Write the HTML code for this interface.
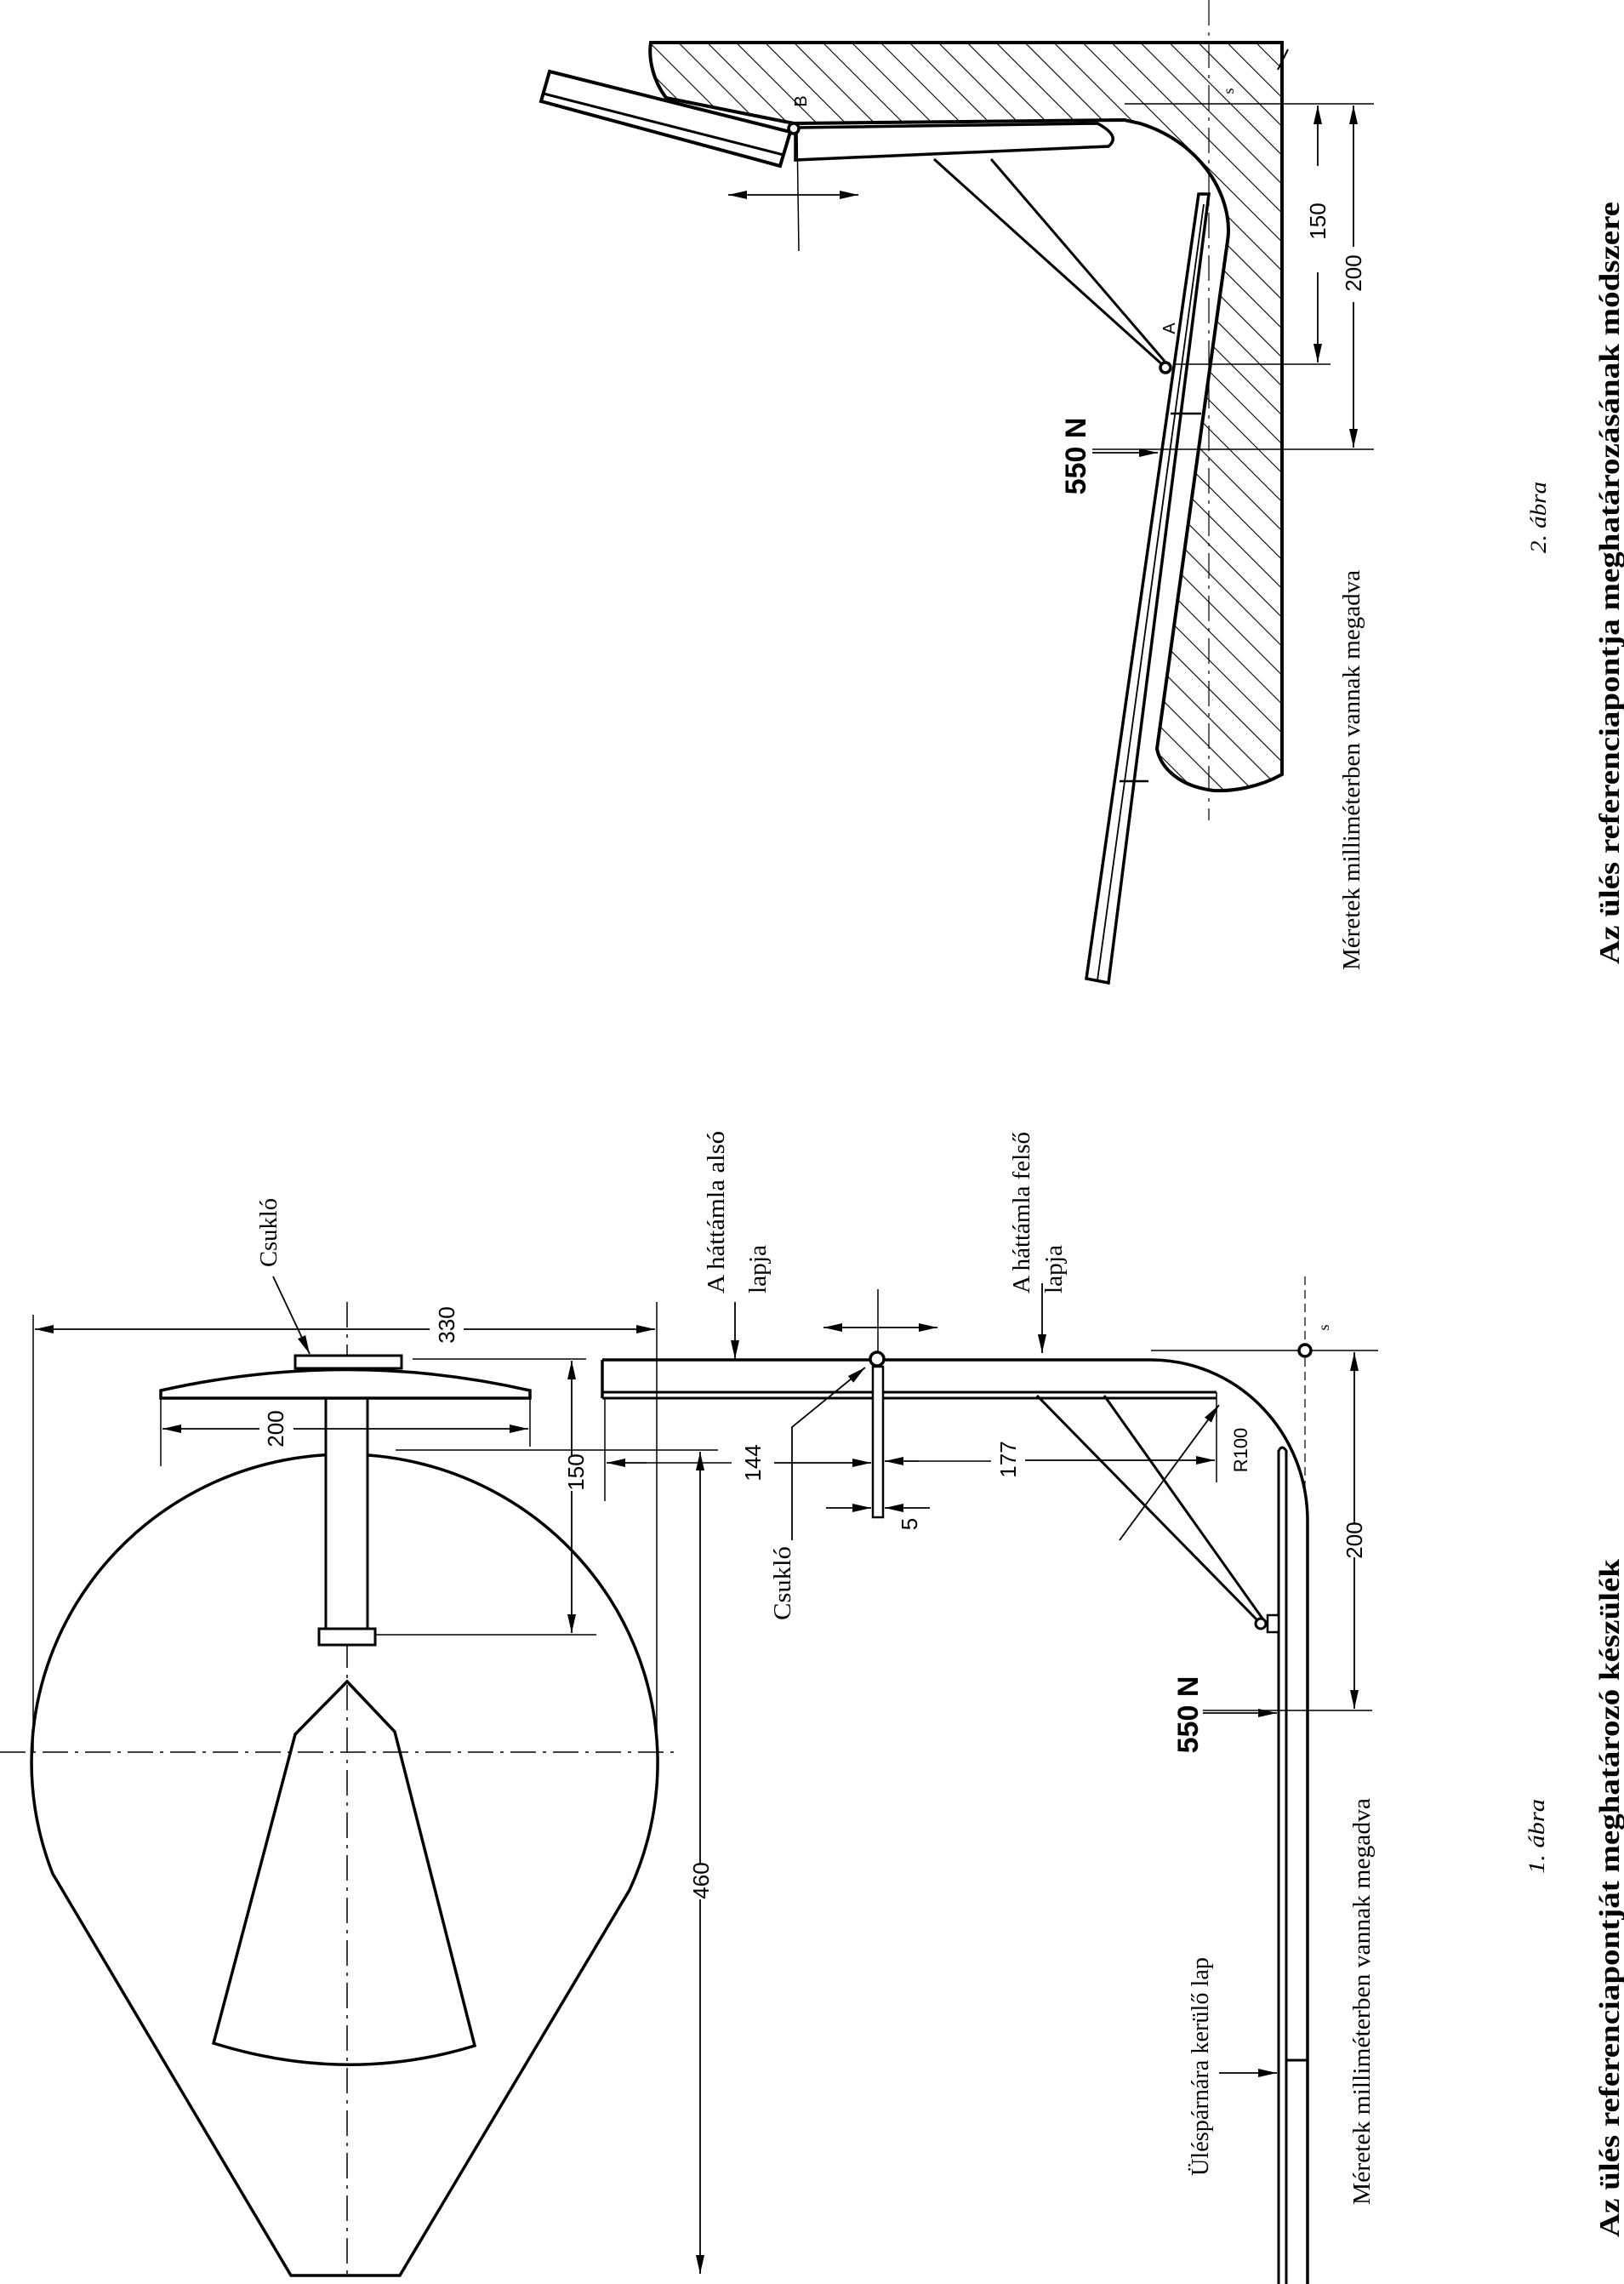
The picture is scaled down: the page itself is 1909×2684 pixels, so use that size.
<!DOCTYPE html>
<html><head><meta charset="utf-8"><style>
html,body{margin:0;padding:0;background:#fff}
svg{display:block}
.s{font-family:"Liberation Serif",serif}
.n{font-family:"Liberation Sans",sans-serif}
</style></head><body>
<svg width="1909" height="2684" viewBox="0 0 1909 2684" xmlns="http://www.w3.org/2000/svg">
<defs>
<marker id="ar" markerUnits="userSpaceOnUse" markerWidth="24" markerHeight="12" refX="22" refY="6" orient="auto"><path d="M0,1 L22,6 L0,11 Z" fill="#000"/></marker>
<pattern id="h" patternUnits="userSpaceOnUse" width="24" height="24" patternTransform="rotate(-45)"><line x1="0" y1="0" x2="0" y2="24" stroke="#000" stroke-width="2.2"/></pattern>
</defs>
<rect width="1909" height="2684" fill="#fff"/>
<g fill="none" stroke="#000">
<!-- FIGURE 1 -->
<path d="M62,2202 A368,362 0 1 1 740,2221 L470,2674 L342,2674 Z" stroke-width="3.5"/>
<path d="M408,1976 L464,2035 L558,2404 Q408,2450 251,2401 L347,2038 Z" stroke-width="3.5"/>
<line x1="0" y1="2059" x2="798" y2="2059" stroke-width="1.5" stroke-dasharray="30,8,4,8"/>
<line x1="408" y1="1530" x2="408" y2="2674" stroke-width="1.5" stroke-dasharray="30,8,4,8"/>
<rect x="383" y="1643" width="49" height="271" stroke-width="3" fill="#fff"/>
<rect x="375" y="1914" width="66" height="19" stroke-width="3" fill="#fff"/>
<path d="M189,1634 Q408,1585 623,1634 L623,1643 L189,1643 Z" stroke-width="3.5" fill="#fff"/>
<rect x="347" y="1593" width="125" height="15" stroke-width="3" fill="#fff"/>
<!-- 330 -->
<line x1="39" y1="1545" x2="39" y2="2059" stroke-width="1.5"/>
<line x1="772" y1="1530" x2="772" y2="2059" stroke-width="1.5"/>
<line x1="505" y1="1562" x2="41" y2="1562" stroke-width="1.8" marker-end="url(#ar)"/>
<line x1="545" y1="1562" x2="770" y2="1562" stroke-width="1.8" marker-end="url(#ar)"/>
<!-- 200 -->
<line x1="189" y1="1634" x2="189" y2="1723" stroke-width="1.5"/>
<line x1="623" y1="1634" x2="623" y2="1700" stroke-width="1.5"/>
<line x1="305" y1="1679" x2="191" y2="1679" stroke-width="1.8" marker-end="url(#ar)"/>
<line x1="345" y1="1679" x2="621" y2="1679" stroke-width="1.8" marker-end="url(#ar)"/>
<!-- 150 -->
<line x1="485" y1="1597" x2="689" y2="1597" stroke-width="1.5"/>
<line x1="441" y1="1921" x2="701" y2="1921" stroke-width="1.5"/>
<line x1="672" y1="1710" x2="672" y2="1599" stroke-width="1.8" marker-end="url(#ar)"/>
<line x1="672" y1="1752" x2="672" y2="1919" stroke-width="1.8" marker-end="url(#ar)"/>
<line x1="465" y1="1704" x2="844" y2="1704" stroke-width="1.5"/>
<!-- 460 -->
<line x1="823" y1="2190" x2="823" y2="1706" stroke-width="1.8" marker-end="url(#ar)"/>
<line x1="823" y1="2232" x2="823" y2="2672" stroke-width="1.8" marker-end="url(#ar)"/>
<!-- csuklo leader top -->
<line x1="321" y1="1500" x2="364" y2="1591" stroke-width="1.8" marker-end="url(#ar)"/>
<!-- backrest plate -->
<path d="M708,1598 L1353,1598 A184,189 0 0 1 1537,1787 L1537,2684" stroke-width="3.5"/>
<line x1="708" y1="1598" x2="708" y2="1643" stroke-width="3.5"/>
<line x1="708" y1="1636" x2="1430" y2="1636" stroke-width="3"/>
<line x1="708" y1="1643" x2="1430" y2="1643" stroke-width="3"/>
<path d="M1503,2684 L1503,1705 Q1507,1697 1512,1705 L1512,2684" stroke-width="3"/>
<line x1="1512" y1="2421" x2="1537" y2="2421" stroke-width="3"/>
<!-- struts -->
<line x1="1219" y1="1640" x2="1478" y2="1904" stroke-width="3"/>
<line x1="1298" y1="1640" x2="1484" y2="1902" stroke-width="3"/>
<rect x="1490" y="1898" width="13" height="20" stroke-width="2.5" fill="#fff"/>
<circle cx="1482" cy="1908" r="6" stroke-width="3" fill="#fff"/>
<!-- hinge -->
<rect x="1026" y="1606" width="12" height="177" stroke-width="2.5" fill="#fff"/>
<line x1="1032" y1="1515" x2="1032" y2="1600" stroke-width="1.5"/>
<line x1="1032" y1="1560" x2="968" y2="1560" stroke-width="1.8" marker-end="url(#ar)"/>
<line x1="1032" y1="1560" x2="1102" y2="1560" stroke-width="1.8" marker-end="url(#ar)"/>
<circle cx="1031" cy="1597" r="8" stroke-width="3.5" fill="#fff"/>
<line x1="864" y1="1530" x2="864" y2="1597" stroke-width="1.8" marker-end="url(#ar)"/>
<line x1="1225" y1="1508" x2="1225" y2="1590" stroke-width="1.8" marker-end="url(#ar)"/>
<!-- 144 / 177 / 5 -->
<line x1="711" y1="1643" x2="711" y2="1764" stroke-width="1.5"/>
<line x1="760" y1="1719" x2="713" y2="1719" stroke-width="1.8" marker-end="url(#ar)"/>
<line x1="760" y1="1719" x2="860" y2="1719" stroke-width="1.5"/>
<line x1="910" y1="1719" x2="1024" y2="1719" stroke-width="1.8" marker-end="url(#ar)"/>
<line x1="1080" y1="1717" x2="1040" y2="1717" stroke-width="1.8" marker-end="url(#ar)"/>
<line x1="1080" y1="1717" x2="1165" y2="1717" stroke-width="1.5"/>
<line x1="1205" y1="1716" x2="1428" y2="1716" stroke-width="1.8" marker-end="url(#ar)"/>
<line x1="1430" y1="1636" x2="1430" y2="1742" stroke-width="1.5"/>
<line x1="971" y1="1772" x2="1024" y2="1772" stroke-width="1.8" marker-end="url(#ar)"/>
<line x1="1093" y1="1772" x2="1040" y2="1772" stroke-width="1.8" marker-end="url(#ar)"/>
<!-- csuklo lower leader -->
<polyline points="931,1810 931,1677 1017,1607" stroke-width="1.8" marker-end="url(#ar)"/>
<!-- R100 -->
<line x1="1316" y1="1810" x2="1433" y2="1651" stroke-width="1.8" marker-end="url(#ar)"/>
<!-- s -->
<line x1="1534" y1="1500" x2="1534" y2="1750" stroke-width="1.2" stroke-dasharray="10,6"/>
<line x1="1353" y1="1587" x2="1620" y2="1587" stroke-width="1.5"/>
<circle cx="1534" cy="1587" r="7" stroke-width="3.5" fill="#fff"/>
<!-- 200 seat -->
<line x1="1592" y1="1790" x2="1592" y2="1589" stroke-width="1.8" marker-end="url(#ar)"/>
<line x1="1592" y1="1830" x2="1592" y2="2008" stroke-width="1.8" marker-end="url(#ar)"/>
<line x1="1414" y1="2010" x2="1613" y2="2010" stroke-width="1.5"/>
<line x1="1414" y1="2013" x2="1501" y2="2013" stroke-width="1.8" marker-end="url(#ar)"/>
<line x1="1433" y1="2436" x2="1501" y2="2436" stroke-width="1.8" marker-end="url(#ar)"/>

<!-- FIGURE 2 -->
<path d="M783,115 C768,95 762,70 765,50 L1507,50 L1507,910 C1480,925 1450,930 1427,929 C1390,925 1365,905 1360,880 L1443,283 C1450,240 1420,170 1340,145 L1322,141 L933,145 Z" fill="url(#h)" stroke-width="4"/>
<path d="M935,150 L1290,145 Q1318,160 1303,172 L935,188 Z" fill="#fff" stroke-width="3.5"/>
<polygon points="646,84 929,155 917,195 636,119" fill="#fff" stroke-width="4"/>
<line x1="639" y1="110" x2="921" y2="182" stroke-width="3"/>
<line x1="937" y1="155" x2="939" y2="295" stroke-width="1.5"/>
<line x1="933" y1="229" x2="856" y2="229" stroke-width="1.8" marker-end="url(#ar)"/>
<line x1="933" y1="229" x2="1009" y2="229" stroke-width="1.8" marker-end="url(#ar)"/>
<circle cx="933" cy="151" r="6" stroke-width="3.5" fill="#fff"/>
<line x1="1098" y1="187" x2="1368" y2="430" stroke-width="3"/>
<line x1="1165" y1="187" x2="1372" y2="428" stroke-width="3"/>
<polygon points="1409,228 1421,228 1303,1155 1277,1150" fill="#fff" stroke-width="3.5"/>
<line x1="1415" y1="240" x2="1290" y2="1152" stroke-width="1.8"/>
<line x1="1376" y1="486" x2="1412" y2="486" stroke-width="2.5"/>
<line x1="1316" y1="918" x2="1350" y2="918" stroke-width="2.5"/>
<circle cx="1370" cy="432" r="6" stroke-width="3.5" fill="#fff"/>
<line x1="1421" y1="0" x2="1421" y2="964" stroke-width="1.2" stroke-dasharray="30,8,4,8"/>
<line x1="1322" y1="122" x2="1615" y2="122" stroke-width="1.5"/>
<line x1="1379" y1="428" x2="1564" y2="428" stroke-width="1.5"/>
<line x1="1284" y1="528" x2="1615" y2="528" stroke-width="1.5"/>
<line x1="1549" y1="195" x2="1549" y2="124" stroke-width="1.8" marker-end="url(#ar)"/>
<line x1="1549" y1="320" x2="1549" y2="426" stroke-width="1.8" marker-end="url(#ar)"/>
<line x1="1591" y1="290" x2="1591" y2="124" stroke-width="1.8" marker-end="url(#ar)"/>
<line x1="1591" y1="355" x2="1591" y2="526" stroke-width="1.8" marker-end="url(#ar)"/>
<line x1="1284" y1="532" x2="1361" y2="532" stroke-width="1.8" marker-end="url(#ar)"/>
<line x1="1514" y1="58" x2="1502" y2="82" stroke-width="2"/>
</g>

<g fill="#000">
<text class="s" font-size="28" transform="translate(325,1489) rotate(-90)" textLength="81" lengthAdjust="spacingAndGlyphs">Csukló</text>
<text class="s" font-size="28" transform="translate(851,1520) rotate(-90)" textLength="191" lengthAdjust="spacingAndGlyphs">A háttámla alsó</text>
<text class="s" font-size="28" transform="translate(900,1520) rotate(-90)" textLength="57" lengthAdjust="spacingAndGlyphs">lapja</text>
<text class="s" font-size="28" transform="translate(1210,1520) rotate(-90)" textLength="190" lengthAdjust="spacingAndGlyphs">A háttámla felső</text>
<text class="s" font-size="28" transform="translate(1248,1520) rotate(-90)" textLength="57" lengthAdjust="spacingAndGlyphs">lapja</text>
<text class="s" font-size="28" transform="translate(929,1904) rotate(-90)" textLength="87" lengthAdjust="spacingAndGlyphs">Csukló</text>
<g class="n" font-size="26" text-anchor="middle">
<text transform="translate(534,1557) rotate(-90)">330</text>
<text transform="translate(333,1679) rotate(-90)">200</text>
<text transform="translate(686,1730) rotate(-90)">150</text>
<text transform="translate(833,2210) rotate(-90)">460</text>
<text transform="translate(894,1719) rotate(-90)">144</text>
<text transform="translate(1194,1715) rotate(-90)">177</text>
<text transform="translate(1078,1791) rotate(-90)">5</text>
<text transform="translate(1466,1704) rotate(-90)" font-size="22">R100</text>
<text transform="translate(1601,1810) rotate(-90)">200</text>
<text transform="translate(1558,260) rotate(-90)">150</text>
<text transform="translate(1600,321) rotate(-90)">200</text>
<text transform="translate(1408,2015) rotate(-90)" font-size="34" font-weight="bold">550 N</text>
<text transform="translate(1276,536) rotate(-90)" font-size="34" font-weight="bold">550 N</text>
<text transform="translate(948,119) rotate(-90)" font-size="20">B</text>
<text transform="translate(1381,386) rotate(-90)" font-size="20">A</text>
<text transform="translate(1562,1560) rotate(-90)" font-size="18" class="s">s</text>
<text transform="translate(1450,107) rotate(-90)" font-size="18" class="s">s</text>
</g>
<text class="s" font-size="28" transform="translate(1420,2557) rotate(-90)" textLength="257" lengthAdjust="spacingAndGlyphs">Üléspárnára kerülő lap</text>
<text class="s" font-size="28" transform="translate(1610,2591) rotate(-90)" textLength="478" lengthAdjust="spacingAndGlyphs">Méretek milliméterben vannak megadva</text>
<text class="s" font-size="28" transform="translate(1598,1140) rotate(-90)" textLength="470" lengthAdjust="spacingAndGlyphs">Méretek milliméterben vannak megadva</text>
<text class="s" font-size="26" font-style="italic" transform="translate(1815,2202) rotate(-90)" textLength="88" lengthAdjust="spacingAndGlyphs">1. ábra</text>
<text class="s" font-size="26" font-style="italic" transform="translate(1817,650) rotate(-90)" textLength="84" lengthAdjust="spacingAndGlyphs">2. ábra</text>
<text class="s" font-size="34" font-weight="bold" transform="translate(1903,2629) rotate(-90)" textLength="797" lengthAdjust="spacingAndGlyphs">Az ülés referenciapontját meghatározó készülék</text>
<text class="s" font-size="34" font-weight="bold" transform="translate(1903,1133) rotate(-90)" textLength="896" lengthAdjust="spacingAndGlyphs">Az ülés referenciapontja meghatározásának módszere</text>
</g>
</svg>
</body></html>
